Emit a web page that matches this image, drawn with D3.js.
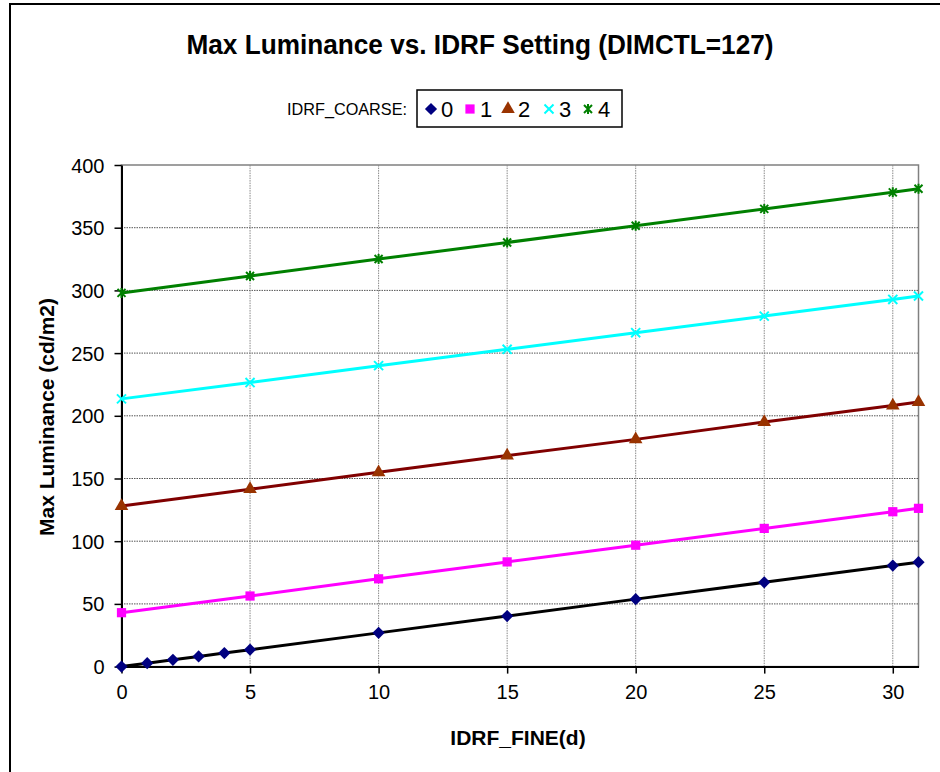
<!DOCTYPE html>
<html>
<head>
<meta charset="utf-8">
<script src="https://cdn.jsdelivr.net/npm/d3@7"></script>
<style>
  body { margin: 0; background: #fff; }
  svg { font-family: "Liberation Sans", Arial, sans-serif; }
</style>
</head>
<body>
<div id="chart"></div>
<script>
// data
var fineX0 = [0, 1, 2, 3, 4, 5, 10, 15, 20, 25, 30, 31];
var fineX = [0, 5, 10, 15, 20, 25, 30, 31];
var coarse0 = [0, 2.7, 5.4, 8.1, 10.8, 13.5, 26.9, 40.3, 53.8, 67.2, 80.6, 83.3];
var coarse1 = [43, 56.3, 70, 83.5, 96.8, 110.2, 123.5, 126.2];
var coarse2 = [128, 141.5, 155, 168.3, 181.2, 195, 208.2, 211];
var coarse3 = [213.5, 226.5, 240, 253, 266.3, 279.5, 292.8, 295.5];
var coarse4 = [298, 311.5, 325, 338.2, 351.5, 365, 378.2, 381];
var seriesNames = ["0", "1", "2", "3", "4"];
var xTicks = [0, 5, 10, 15, 20, 25, 30];
var yTicks = [0, 50, 100, 150, 200, 250, 300, 350, 400];

var series = [
  {name: seriesNames[0], xs: fineX0, ys: coarse0, line: "#000000", mark: "#000080", sym: "diamond"},
  {name: seriesNames[1], xs: fineX, ys: coarse1, line: "#ff00ff", mark: "#ff00ff", sym: "square"},
  {name: seriesNames[2], xs: fineX, ys: coarse2, line: "#800000", mark: "#993300", sym: "triangle"},
  {name: seriesNames[3], xs: fineX, ys: coarse3, line: "#00ffff", mark: "#00ffff", sym: "cross"},
  {name: seriesNames[4], xs: fineX, ys: coarse4, line: "#008000", mark: "#008000", sym: "star"}
];

var width = 940, height = 772;
var svg = d3.select("#chart").append("svg")
  .attr("width", width).attr("height", height);

// outer chart border
svg.append("rect")
  .attr("x", 10).attr("y", 4).attr("width", 940).attr("height", 800)
  .attr("fill", "#fff").attr("stroke", "#000").attr("stroke-width", 2);

var x = d3.scaleLinear().domain([0, 31]).range([121.5, 918.5]);
var y = d3.scaleLinear().domain([0, 400]).range([666.6, 165]);

// plot area border (grey)
svg.append("rect")
  .attr("x", x(0)).attr("y", y(400))
  .attr("width", x(31) - x(0)).attr("height", y(0) - y(400))
  .attr("fill", "none").attr("stroke", "#808080").attr("stroke-width", 1.5);

// grid lines
svg.append("g").selectAll("line.hg")
  .data(yTicks.slice(1, -1)).enter().append("line")
  .attr("x1", x(0)).attr("x2", x(31))
  .attr("y1", function(d){ return y(d); }).attr("y2", function(d){ return y(d); })
  .attr("stroke", "#555").attr("stroke-width", 1).attr("stroke-dasharray", "1.5,1");
svg.append("g").selectAll("line.vg")
  .data(xTicks.slice(1)).enter().append("line")
  .attr("y1", y(0)).attr("y2", y(400))
  .attr("x1", function(d){ return x(d); }).attr("x2", function(d){ return x(d); })
  .attr("stroke", "#888").attr("stroke-width", 1).attr("stroke-dasharray", "1.5,1");

// axes
var xAxis = svg.append("g")
  .attr("transform", "translate(0," + y(0) + ")")
  .call(d3.axisBottom(x).tickValues(xTicks).tickSize(7).tickPadding(11).tickSizeOuter(0));
var yAxis = svg.append("g")
  .attr("transform", "translate(" + x(0) + ",0)")
  .call(d3.axisLeft(y).tickValues(yTicks).tickSize(7).tickPadding(10).tickSizeOuter(0));
[xAxis, yAxis].forEach(function(a){
  a.select(".domain").attr("stroke", "#000").attr("stroke-width", 2);
  a.selectAll(".tick line").attr("stroke", "#000").attr("stroke-width", 1.5);
  a.selectAll(".tick text").attr("font-size", 20).attr("fill", "#000")
    .attr("font-family", "Liberation Sans, Arial, sans-serif");
});
yAxis.selectAll(".tick text").attr("dy", "0.35em");

// lines
var line = d3.line()
  .x(function(d){ return x(d[0]); })
  .y(function(d){ return y(d[1]); });

function symPath(sym) {
  if (sym == "diamond") return d3.symbol().type(d3.symbolDiamond2).size(95)();
  if (sym == "square") return d3.symbol().type(d3.symbolSquare).size(85)();
  if (sym == "triangle") return d3.symbol().type(d3.symbolTriangle).size(80)();
  if (sym == "cross") return d3.symbol().type(d3.symbolX).size(55)();
  return "M-4,-4L4,4M-4,4L4,-4M0,-5L0,5";
}

series.forEach(function(s){
  var pts = s.xs.map(function(v, i){ return [v, s.ys[i]]; });
  svg.append("path")
    .datum(pts)
    .attr("d", line)
    .attr("fill", "none")
    .attr("stroke", s.line)
    .attr("stroke-width", 3);
});

series.forEach(function(s){
  var pts = s.xs.map(function(v, i){ return [v, s.ys[i]]; });
  var isStroke = (s.sym == "cross" || s.sym == "star");
  svg.append("g").selectAll("path")
    .data(pts).enter().append("path")
    .attr("transform", function(d){ return "translate(" + x(d[0]) + "," + y(d[1]) + ")"; })
    .attr("d", symPath(s.sym))
    .attr("fill", isStroke ? "none" : s.mark)
    .attr("stroke", s.mark)
    .attr("stroke-width", isStroke ? 2 : 0);
});

// title
svg.append("text")
  .attr("x", 480).attr("y", 54)
  .attr("text-anchor", "middle")
  .attr("font-size", 27).attr("font-weight", "bold")
  .attr("textLength", 587).attr("lengthAdjust", "spacingAndGlyphs")
  .text("Max Luminance vs. IDRF Setting (DIMCTL=127)");

// axis titles
svg.append("text")
  .attr("x", 518).attr("y", 745)
  .attr("text-anchor", "middle")
  .attr("font-size", 21).attr("font-weight", "bold")
  .text("IDRF_FINE(d)");
svg.append("text")
  .attr("transform", "translate(54,417) rotate(-90)")
  .attr("text-anchor", "middle")
  .attr("font-size", 21).attr("font-weight", "bold")
  .text("Max Luminance (cd/m2)");

// legend
svg.append("text")
  .attr("x", 287).attr("y", 115)
  .attr("font-size", 17)
  .attr("textLength", 120).attr("lengthAdjust", "spacingAndGlyphs")
  .text("IDRF_COARSE:");
svg.append("rect")
  .attr("x", 417).attr("y", 90).attr("width", 205).attr("height", 37)
  .attr("fill", "#fff").attr("stroke", "#000").attr("stroke-width", 1.5);

var legX = [431, 470, 508, 549, 588];
var leg = svg.append("g").selectAll("g")
  .data(series).enter().append("g")
  .attr("transform", function(d, i){ return "translate(" + legX[i] + ",109)"; });
leg.append("path")
  .attr("d", function(d){ return symPath(d.sym); })
  .attr("fill", function(d){ return (d.sym == "cross" || d.sym == "star") ? "none" : d.mark; })
  .attr("stroke", function(d){ return d.mark; })
  .attr("stroke-width", function(d){ return (d.sym == "cross" || d.sym == "star") ? 2 : 0; });
leg.append("text")
  .attr("x", 10).attr("y", 8)
  .attr("font-size", 22)
  .text(function(d){ return d.name; });
</script>
</body>
</html>
